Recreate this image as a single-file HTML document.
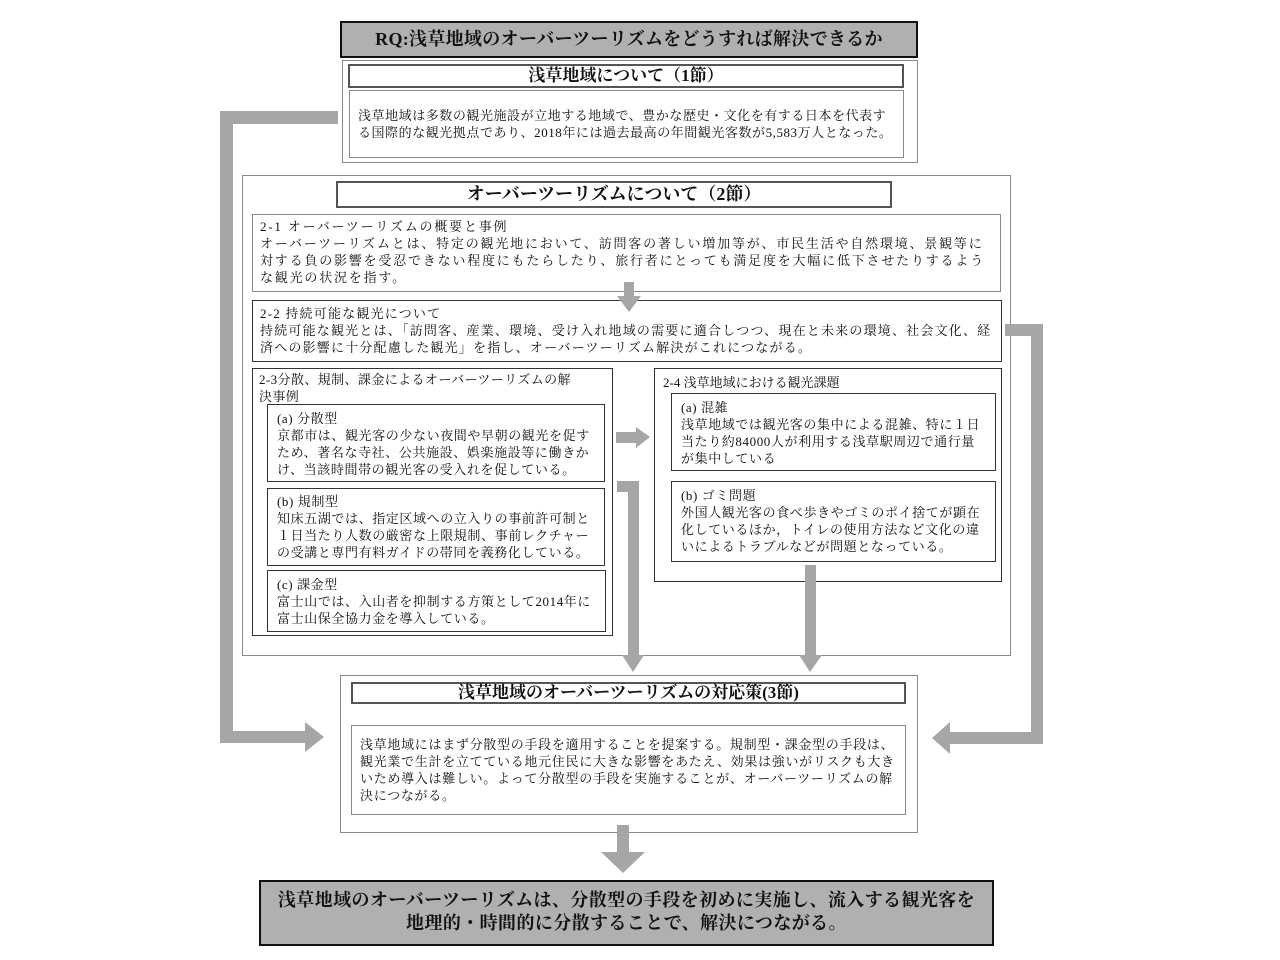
<!DOCTYPE html>
<html><head><meta charset="utf-8"><style>
body{margin:0;width:1280px;height:960px;background:#fff;position:relative;overflow:hidden;font-family:"Liberation Serif","Noto Serif CJK SC",serif;color:#111}
.b{position:absolute;box-sizing:border-box;background:#fff}
.t{position:absolute;white-space:nowrap;font-size:13px;line-height:17px}
.h{position:absolute;box-sizing:border-box;text-align:center;font-weight:bold;background:#fff;border:2px solid #555}
</style></head><body>

<div class="b" style="left:340px;top:21px;width:578px;height:37px;background:#b0b0b0;border:2px solid #111"></div>
<div class="t" style="left:340px;top:29px;width:578px;text-align:center;font-size:18px;line-height:20px;font-weight:bold;letter-spacing:0.3px">RQ:浅草地域のオーバーツーリズムをどうすれば解決できるか</div>

<div class="b" style="left:342px;top:60px;width:576px;height:103px;border:1px solid #888"></div>
<div class="h" style="left:348px;top:64px;width:556px;height:24px;font-size:17px;line-height:20px">浅草地域について（1節）</div>
<div class="b" style="left:349px;top:90px;width:555px;height:68px;border:1px solid #888"></div>
<div class="t" style="left:358px;top:107px;line-height:17px;letter-spacing:0.55px">浅草地域は多数の観光施設が立地する地域で、豊かな歴史・文化を有する日本を代表す<br>る国際的な観光拠点であり、2018年には過去最高の年間観光客数が5,583万人となった。</div>

<div class="b" style="left:242px;top:175px;width:769px;height:481px;border:1px solid #888"></div>
<div class="h" style="left:336px;top:181px;width:556px;height:27px;font-size:18px;line-height:23px">オーバーツーリズムについて（2節）</div>

<div class="b" style="left:252px;top:214px;width:749px;height:78px;border:1px solid #888"></div>
<div class="t" style="left:260px;top:218px;letter-spacing:1.8px">2-1 オーバーツーリズムの概要と事例<br>オーバーツーリズムとは、特定の観光地において、訪問客の著しい増加等が、市民生活や自然環境、景観等に<br>対する負の影響を受忍できない程度にもたらしたり、旅行者にとっても満足度を大幅に低下させたりするよう<br>な観光の状況を指す。</div>

<div class="b" style="left:252px;top:300px;width:750px;height:62px;border:1px solid #333"></div>
<div class="t" style="left:260px;top:305px;letter-spacing:1.2px">2-2 持続可能な観光について<br>持続可能な観光とは、「訪問客、産業、環境、受け入れ地域の需要に適合しつつ、現在と未来の環境、社会文化、経<br>済への影響に十分配慮した観光」を指し、オーバーツーリズム解決がこれにつながる。</div>

<div class="b" style="left:252px;top:368px;width:361px;height:268px;border:1px solid #333"></div>
<div class="t" style="left:259px;top:371px;letter-spacing:0.4px">2-3分散、規制、課金によるオーバーツーリズムの解<br>決事例</div>
<div class="b" style="left:267px;top:404px;width:338px;height:78px;border:1px solid #333"></div>
<div class="t" style="left:277px;top:410px;letter-spacing:0.6px">(a) 分散型<br>京都市は、観光客の少ない夜間や早朝の観光を促す<br>ため、著名な寺社、公共施設、娯楽施設等に働きか<br>け、当該時間帯の観光客の受入れを促している。</div>
<div class="b" style="left:267px;top:488px;width:338px;height:78px;border:1px solid #333"></div>
<div class="t" style="left:277px;top:493px;letter-spacing:0.6px">(b) 規制型<br>知床五湖では、指定区域への立入りの事前許可制と<br>１日当たり人数の厳密な上限規制、事前レクチャー<br>の受講と専門有料ガイドの帯同を義務化している。</div>
<div class="b" style="left:267px;top:570px;width:339px;height:62px;border:1px solid #333"></div>
<div class="t" style="left:277px;top:576px;letter-spacing:0.6px">(c) 課金型<br>富士山では、入山者を抑制する方策として2014年に<br>富士山保全協力金を導入している。</div>

<div class="b" style="left:654px;top:368px;width:348px;height:214px;border:1px solid #333"></div>
<div class="t" style="left:663px;top:374px">2-4 浅草地域における観光課題</div>
<div class="b" style="left:671px;top:393px;width:325px;height:78px;border:1px solid #333"></div>
<div class="t" style="left:681px;top:399px;letter-spacing:0.6px">(a) 混雑<br>浅草地域では観光客の集中による混雑、特に１日<br>当たり約84000人が利用する浅草駅周辺で通行量<br>が集中している</div>
<div class="b" style="left:671px;top:481px;width:325px;height:81px;border:1px solid #333"></div>
<div class="t" style="left:681px;top:487px;letter-spacing:0.6px">(b) ゴミ問題<br>外国人観光客の食べ歩きやゴミのポイ捨てが顕在<br>化しているほか，トイレの使用方法など文化の違<br>いによるトラブルなどが問題となっている。</div>

<div class="b" style="left:340px;top:675px;width:578px;height:158px;border:1px solid #888"></div>
<div class="h" style="left:351px;top:682px;width:555px;height:22px;font-size:17px;line-height:18px">浅草地域のオーバーツーリズムの対応策(3節)</div>
<div class="b" style="left:351px;top:725px;width:555px;height:90px;border:1px solid #888"></div>
<div class="t" style="left:360px;top:736px;letter-spacing:0.7px">浅草地域にはまず分散型の手段を適用することを提案する。規制型・課金型の手段は、<br>観光業で生計を立てている地元住民に大きな影響をあたえ、効果は強いがリスクも大き<br>いため導入は難しい。よって分散型の手段を実施することが、オーバーツーリズムの解<br>決につながる。</div>

<div class="b" style="left:259px;top:880px;width:735px;height:66px;background:#b0b0b0;border:2px solid #111"></div>
<div class="t" style="left:259px;top:889px;width:735px;text-align:center;font-size:18px;line-height:23px;font-weight:bold;letter-spacing:0.4px">浅草地域のオーバーツーリズムは、分散型の手段を初めに実施し、流入する観光客を<br>地理的・時間的に分散することで、解決につながる。</div>

<svg width="1280" height="960" style="position:absolute;left:0;top:0">
<g fill="#a6a6a6">
<rect x="220" y="111" width="118" height="13"/>
<rect x="220" y="111" width="13" height="620"/>
<rect x="220" y="731" width="88" height="12"/>
<polygon points="305,722 324,737 305,752"/>
<rect x="1005" y="324" width="38" height="12"/>
<rect x="1031" y="324" width="12" height="420"/>
<rect x="948" y="732" width="95" height="12"/>
<polygon points="950,722 932,738 950,754"/>
<rect x="624" y="282" width="10" height="16"/>
<polygon points="617,296 641,296 629,312"/>
<rect x="616" y="432" width="22" height="11"/>
<polygon points="636,427 650,437 636,448"/>
<rect x="617" y="481" width="22" height="11"/>
<rect x="628" y="481" width="11" height="176"/>
<polygon points="622,655 644,655 633,672"/>
<rect x="805" y="565" width="11" height="92"/>
<polygon points="799,655 822,655 810,672"/>
<rect x="617" y="825" width="12" height="30"/>
<polygon points="601,852 645,852 623,873"/>
</g></svg>
</body></html>
